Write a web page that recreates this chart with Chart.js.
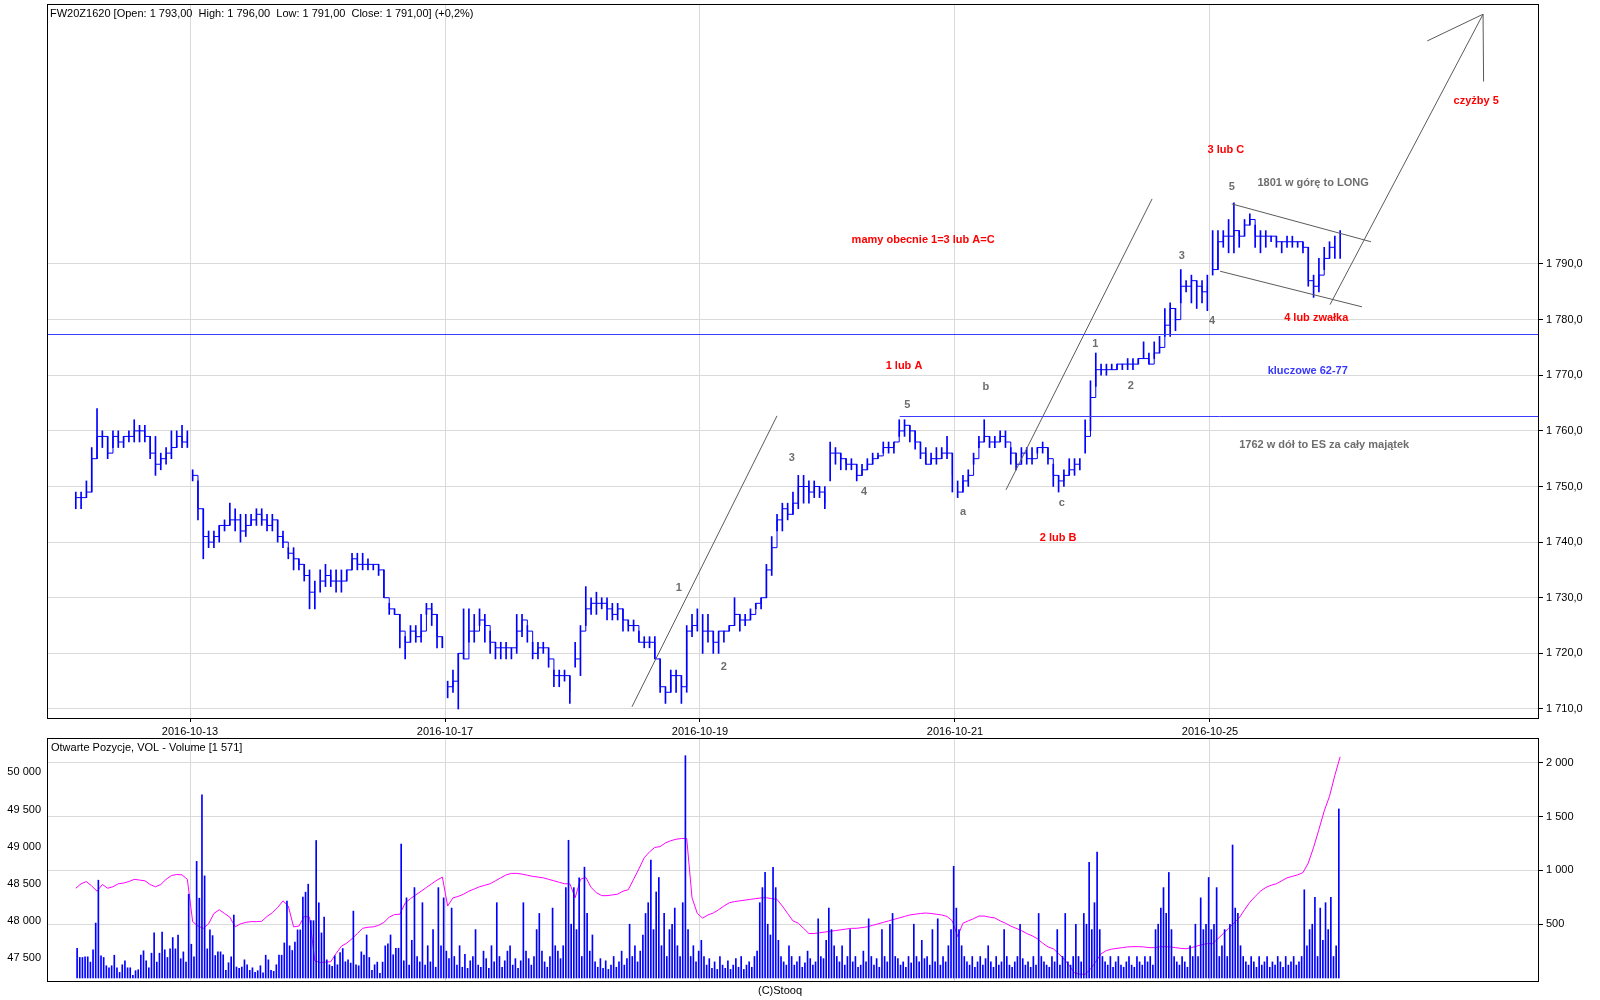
<!DOCTYPE html>
<html>
<head>
<meta charset="utf-8">
<script src="https://cdn.jsdelivr.net/npm/chart.js@4.4.1/dist/chart.umd.min.js"></script>
<style>
  body { margin: 0; background: #fff; }
  #wrap { position: relative; width: 1600px; height: 1000px; }
  canvas { position: absolute; left: 0; }
</style>
</head>
<body>
<div id="wrap">
  <canvas id="priceChart" width="1600" height="737" style="top:0"></canvas>
  <canvas id="volChart" width="1600" height="263" style="top:737px"></canvas>
</div>
<script>
// FW20Z1620, 20-min bars, 24 per session, bar 0 = start of 2016-10-12
const barsPerDay = 24;
const firstBar = 2;
const closes = [
  1748,1748,1749,1755,1759,1759,1756,1759,1758,1759,1759,1760,1760,1759,1756,1754,1755,1756,1757,1759,1758,1759,
  1752,1746,1741,1740,1741,1743,1743,1744,1744,1742,1743,1744,1745,1744,1743,1744,1741,1740,1738,1737,1736,1734,1731,1731,
  1733,1734,1733,1733,1733,1735,1737,1736,1736,1736,1736,1735,1730,1728,1727,1724,1722,1724,1723,1724,1728,1727,1723,1721,
  1714,1715,1720,1719,1724,1724,1726,1725,1722,1721,1721,1721,1721,1724,1726,1724,1720,1721,1721,1719,1716,1716,1716,1713,
  1719,1724,1728,1729,1729,1729,1728,1727,1728,1726,1725,1725,1722,1722,1722,1719,1714,1713,1716,1716,1714,1724,1725,1726,
  1724,1724,1722,1724,1724,1725,1727,1726,1726,1727,1729,1730,1735,1739,1744,1746,1745,1747,1750,1750,1749,1750,1749,1747,
  1756,1756,1755,1754,1754,1752,1753,1754,1755,1755.5,1757,1757,1758,1760,1761,1760,1758,1756,1754,1755,1755,1756,1756,1752,
  1749,1751,1752,1755,1758,1759,1758,1758,1759,1758,1756,1754,1756,1755,1755,1757,1757,1755,1752,1751,1752,1753,1754,1754,
  1759,1766,1771,1771,1771,1771,1772,1772,1772,1772,1773,1773,1772,1774,1775,1779,1782,1780,1786,1786,1787,1786,1785,1786,
  1789,1794,1795,1795,1796,1795,1797,1798,1795,1795,1795,1795,1794,1794,1794,1794,1794,1793,1787,1786,1788,1791,1793,1793,
  1791
];
const highs = [
  1749,1749,1751,1757,1764,1760,1759,1760,1760,1759,1760,1762,1761,1761,1759,1759,1756,1757,1760,1760,1761,1760,
  1753,1751,1746,1742,1742,1743,1744,1747,1746,1745,1745,1745,1746,1746,1745,1745,1744,1742,1739,1739,1737,1736,1735,1733,
  1735,1736,1735,1735,1735,1735,1738,1738,1738,1737,1736,1736,1735,1729,1728,1727,1723,1725,1725,1727,1729,1729,1727,1723,
  1715,1717,1720,1728,1728,1727,1728,1727,1724,1722,1722,1722,1721,1727,1727,1725,1722,1722,1722,1721,1717,1717,1717,1716,
  1722,1725,1732,1730,1731,1730,1730,1729,1729,1728,1726,1726,1724,1723,1723,1723,1719,1714,1717,1717,1716,1725,1727,1728,
  1727,1727,1724,1724,1724,1725,1730,1727,1727,1728,1729,1730,1736,1741,1745,1747,1747,1749,1752,1752,1751,1751,1750,1750,
  1758,1757,1756,1755,1755,1754,1754,1755,1756,1756,1758,1758,1758,1762,1762,1761,1760,1758,1757,1756,1757,1757,1759,1756,
  1751,1752,1753,1756,1759,1762,1759,1759,1760,1760,1757,1756,1757,1757,1757,1757,1758,1757,1754,1752,1753,1755,1755,1755,
  1762,1769,1774,1772,1772,1772,1772,1772,1773,1773,1773,1776,1774,1776,1777,1782,1783,1782,1789,1787,1788,1787,1787,1788,
  1796,1796,1796,1798,1801,1796,1798,1799,1797,1796,1796,1795,1795,1794,1795,1795,1794,1794,1793,1788,1791,1793,1794,1795,
  1796
];
const lows = [
  1746,1746,1748,1749,1755,1757,1755,1757,1757,1757,1758,1758,1758,1758,1755,1752,1753,1754,1755,1757,1757,1757,
  1751,1744,1737,1739,1739,1740,1742,1743,1742,1740,1741,1743,1743,1743,1742,1742,1740,1739,1737,1735,1735,1733,1728,1728,
  1731,1732,1732,1731,1731,1733,1735,1735,1735,1735,1735,1734,1730,1727,1727,1721,1719,1722,1722,1722,1727,1725,1721,1721,
  1712,1713,1710,1719,1722,1722,1725,1722,1720,1719,1719,1719,1719,1720,1723,1722,1719,1719,1720,1717.5,1714,1714,1715,1711,
  1717.5,1716,1725,1727,1727,1728,1726,1726,1726,1724,1724,1724,1722,1721,1721,1719,1713,1711,1713,1713,1711,1713,1723,1724,
  1720,1722,1720,1720,1722,1724,1725,1724,1725,1726,1728,1728,1730,1734,1742,1742,1744,1745,1746,1747,1747,1748,1748,1746,
  1751,1754,1753,1753,1753,1751,1752,1753,1754,1755,1756,1756,1756,1759,1759,1758,1756.7,1755,1754,1754,1754,1755,1755,1749,
  1748,1749,1750,1754,1757,1758,1757,1757,1758,1757,1754,1753,1754,1754,1754,1756,1756,1754,1750,1749,1750,1752,1752,1753,
  1756,1760,1768,1770,1770,1771,1771,1771,1771,1771,1772,1773,1772,1773,1774,1777,1777,1778,1783,1785,1783,1782,1783,1781.6,
  1788,1789,1793,1792,1792,1793,1795,1797,1793,1792,1793,1794,1793,1792,1793,1793,1793,1792,1786,1784,1785,1789,1791,1791,
  1791
];
// volume, 10-min bars, 48 per session
const volFirst = 5;
const volumes = [
  277,191,191,197,197,148,262,511,909,206,191,114,95,114,212,95,52,123,160,95,95,25,68,77,212,253,160,95,231,419,148,231,428,262,191,271,376,271,400,179,243,148,779,
  314,197,1084,742,1703,949,271,447,394,209,243,243,216,71,142,197,585,102,89,102,169,123,71,95,52,68,114,49,212,169,71,62,123,212,212,326,715,299,256,333,447,447,751,798,872,533,533,1278,
  699,419,567,169,123,108,206,123,237,274,151,169,139,622,123,114,243,212,400,191,71,123,148,43,148,299,317,400,216,277,277,
  1245,160,745,120,350,840,200,150,700,120,300,150,450,100,840,300,745,
  250,180,650,200,120,300,100,220,90,160,200,450,120,100,250,180,90,300,150,700,200,100,160,250,
  300,120,180,90,160,700,250,180,120,200,450,600,250,150,100,200,650,300,250,180,300,840,1280,500,
  840,450,930,200,1030,600,250,400,150,100,180,90,160,80,120,200,100,150,250,120,180,500,200,300,
  150,250,400,600,700,1095,450,800,934,300,600,200,450,500,650,300,200,700,2066,450,200,300,150,250,
  350,200,120,180,90,150,80,200,120,90,160,80,120,180,100,200,80,120,150,100,200,250,700,840,
  981,500,400,1028,840,350,200,150,120,300,200,120,150,200,100,140,250,180,120,150,550,200,180,350,
  650,450,300,200,150,300,120,200,450,150,200,100,120,250,150,550,200,120,180,100,450,200,150,500,
  600,200,180,120,150,100,200,140,500,200,150,350,180,200,120,450,150,550,120,200,150,300,450,1038,
  650,450,300,200,150,120,200,100,150,200,120,180,300,150,100,200,120,150,450,200,120,100,150,200,
  500,180,120,150,100,200,120,600,200,150,120,100,200,150,450,120,200,600,150,120,200,500,200,150,
  600,500,1075,450,700,1170,450,200,150,120,200,100,150,200,120,100,150,200,120,100,200,150,120,200,
  150,200,120,450,500,650,840,600,981,450,200,150,120,200,150,100,300,200,500,200,745,450,500,934,
  450,500,840,200,300,450,200,500,1236,650,600,300,200,150,120,200,150,100,200,120,150,200,100,150,
  120,200,150,100,200,120,150,200,120,150,200,820,300,450,500,750,200,650,350,700,450,750,200,300,
  1571
];
// open interest, one value per 20-min bar from firstBar
const openInt = [
  48440,48500,48530,48470,48400,48490,48440,48460,48500,48510,48530,48560,48550,48540,48490,48460,48490,48560,48610,48625,48620,48560,
  47990,47930,47900,47960,48100,48150,48100,48050,47920,47960,47980,47990,47990,47995,48060,48110,48180,48270,48200,47920,47930,48060,
  48050,47460,47440,47445,47450,47560,47660,47700,47760,47830,47900,47915,47920,47940,47980,48050,48085,48090,
  48240,48300,48350,48400,48450,48500,48550,48590,
  48200,48310,48330,48360,48400,48430,48460,48480,48500,48540,48580,48620,48640,48640,48630,48615,
  48600,48590,48580,48560,48540,48520,48500,48500,48312,48560,48587,48450,48380,48340,48340,48350,
  48360,48400,48420,48560,48700,48850,48930,48990,49000,49050,49080,49100,49110,49110,48312,48100,
  48037,48080,48106,48150,48200,48244,48260,48270,48280,48290,48300,48310,48312,48300,48290,48200,
  48100,48000,47969,47900,47830,47830,47840,47850,47860,47870,47880,47890,47900,47900,47910,47920,
  47940,47960,47980,48000,48020,48040,48060,48080,48090,48100,48106,48100,48090,48080,48060,48000,
  47790,47969,48000,48030,48065,48065,48050,48040,48000,47969,47930,47900,47870,47830,47800,47760,
  47700,47650,47625,47560,47488,47400,47300,47282,47282,47350,47450,47557,47600,47620,47630,47640,
  47650,47653,47653,47650,47640,47640,47650,47653,47650,47640,47630,47625,47640,47660,47680,47694,
  47694,47760,47830,47900,47970,48040,48150,48250,48330,48400,48450,48480,48500,48540,48580,48600,
  48620,48650,48780,48990,49230,49480,49680,49960,50210
];

const dateTicks = [24, 72, 120, 168, 216];
const dateLabels = ['2016-10-13', '2016-10-17', '2016-10-19', '2016-10-21', '2016-10-25'];
const priceTicks = [1710, 1720, 1730, 1740, 1750, 1760, 1770, 1780, 1790];
const volTicks = [500, 1000, 1500, 2000];
const oiTicks = [47500, 48000, 48500, 49000, 49500, 50000];

const levels = [[1777.4, -3], [1762.6, 157.6]];
const guides = [
  [107.2, 1710.4, 134.5, 1762.7],
  [177.6, 1749.4, 205.1, 1801.7],
  [220.1, 1800.8, 246.3, 1794.0],
  [217.9, 1788.7, 244.6, 1782.3],
  [238.6, 1782.7, 267.4, 1834.9],
  [256.9, 1830.1, 267.4, 1834.9],
  [267.4, 1834.9, 267.5, 1822.8]
];
const red = '#ff0000', gray = '#6e6e6e', blue = '#3737ff';
const notes = [
  ['czyżby 5', 266.1, 1819.3, red],
  ['3 lub C', 219.0, 1810.5, red],
  ['1801 w górę to LONG', 235.4, 1804.6, gray],
  ['5', 220.1, 1803.8, gray],
  ['mamy obecnie 1=3 lub A=C', 162.0, 1794.3, red],
  ['3', 210.7, 1791.4, gray],
  ['4 lub zwałka', 236.0, 1780.3, red],
  ['4', 216.4, 1779.8, gray],
  ['1', 194.4, 1775.6, gray],
  ['2', 201.1, 1768.1, gray],
  ['1 lub A', 158.4, 1771.7, red],
  ['kluczowe 62-77', 234.4, 1770.8, blue],
  ['b', 173.8, 1767.9, gray],
  ['5', 159.0, 1764.7, gray],
  ['1762 w dół to ES za cały majątek', 237.5, 1757.5, gray],
  ['3', 137.3, 1755.1, gray],
  ['4', 150.9, 1749.0, gray],
  ['a', 169.5, 1745.4, gray],
  ['c', 188.1, 1747.0, gray],
  ['2 lub B', 187.4, 1740.7, red],
  ['1', 116.0, 1731.75, gray],
  ['2', 124.5, 1717.6, gray]
];

const xMin = -2.918, xMax = 277.93;
const FONT = '"Liberation Sans", Arial, sans-serif';
Chart.defaults.font.family = FONT;
Chart.defaults.font.size = 11;
Chart.defaults.color = '#000';

function spaced(v) {
  return String(Math.round(v)).replace(/\B(?=(\d{3})+(?!\d))/g, ' ');
}
function noPadV(s, w) { s.width = w; s.paddingTop = 0; s.paddingBottom = 0; }
function noPadH(s, h) { s.height = h; s.paddingLeft = 0; s.paddingRight = 0; }

const wickPts = highs.map((h, i) => ({ x: firstBar + i + 0.5, y: [lows[i], h] }));
const closePts = [];
closes.forEach((c, i) => {
  const k = firstBar + i;
  if (i > 0 && k % barsPerDay === 0) closePts.push({ x: k, y: null });
  closePts.push({ x: k + 0.5, y: c });
});
const volPts = volumes.map((v, j) => ({ x: (volFirst + j + 0.5) / 2, y: v }));
const oiPts = openInt.map((v, i) => ({ x: firstBar + i + 0.5, y: v }));

const frame = {
  id: 'frame',
  afterDraw(chart) {
    const a = chart.chartArea, ctx = chart.ctx;
    ctx.save();
    ctx.strokeStyle = '#000';
    ctx.lineWidth = 1;
    ctx.strokeRect(a.left + 0.5, a.top - 0.5, a.right - a.left - 1, a.bottom - a.top);
    ctx.restore();
  }
};

const drawings = {
  id: 'drawings',
  afterDatasetsDraw(chart) {
    const ctx = chart.ctx, x = chart.scales.x, y = chart.scales.y, a = chart.chartArea;
    ctx.save();
    ctx.lineWidth = 1;
    ctx.strokeStyle = '#3c3cff';
    levels.forEach(l => {
      const py = Math.round(y.getPixelForValue(l[0])) + 0.5;
      ctx.beginPath();
      ctx.moveTo(Math.max(a.left, x.getPixelForValue(l[1])), py);
      ctx.lineTo(a.right, py);
      ctx.stroke();
    });
    ctx.strokeStyle = '#5a5a5a';
    guides.forEach(g => {
      ctx.beginPath();
      ctx.moveTo(x.getPixelForValue(g[0]), y.getPixelForValue(g[1]));
      ctx.lineTo(x.getPixelForValue(g[2]), y.getPixelForValue(g[3]));
      ctx.stroke();
    });
    ctx.font = 'bold 11px ' + FONT;
    ctx.textAlign = 'center';
    ctx.textBaseline = 'middle';
    notes.forEach(n => {
      ctx.fillStyle = n[3];
      ctx.fillText(n[0], x.getPixelForValue(n[1]), y.getPixelForValue(n[2]));
    });
    ctx.font = '11px ' + FONT;
    ctx.textAlign = 'left';
    ctx.fillStyle = '#000';
    ctx.fillText('FW20Z1620 [Open: 1 793,00  High: 1 796,00  Low: 1 791,00  Close: 1 791,00] (+0,2%)', 50, 14);
    ctx.restore();
  }
};

new Chart(document.getElementById('priceChart'), {
  type: 'bar',
  data: {
    datasets: [
      { type: 'line', data: closePts, borderColor: '#0000ff', borderWidth: 1, pointRadius: 0, stepped: true, spanGaps: false },
      { type: 'bar', data: wickPts, backgroundColor: '#0000ff', barThickness: 1, borderWidth: 0 }
    ]
  },
  options: {
    responsive: false,
    animation: false,
    layout: { padding: { left: 47, top: 5, right: 0, bottom: 0 } },
    plugins: { legend: { display: false }, tooltip: { enabled: false } },
    scales: {
      x: {
        type: 'linear', min: xMin, max: xMax, offset: false,
        grid: { offset: false, color: '#dadada', tickColor: '#000', tickLength: 3 },
        border: { display: false },
        afterBuildTicks: s => { s.ticks = dateTicks.map(v => ({ value: v })); },
        afterFit: s => noPadH(s, 18),
        ticks: { padding: 3, maxRotation: 0, autoSkip: false, callback: (v, i) => dateLabels[i] }
      },
      y: {
        position: 'right', min: 1708.2, max: 1836.56,
        grid: { color: '#dadada', tickColor: '#000', tickLength: 4 },
        border: { display: false },
        afterBuildTicks: s => { s.ticks = priceTicks.map(v => ({ value: v })); },
        afterFit: s => noPadV(s, 61),
        ticks: { padding: 3, callback: v => spaced(v) + ',0' }
      }
    }
  },
  plugins: [frame, drawings]
});

const volText = {
  id: 'volText',
  afterDraw(chart) {
    const ctx = chart.ctx;
    ctx.save();
    ctx.font = '11px ' + FONT;
    ctx.fillStyle = '#000';
    ctx.textBaseline = 'middle';
    ctx.textAlign = 'left';
    ctx.fillText('Otwarte Pozycje, VOL - Volume [' + spaced(volumes[volumes.length - 1]) + ']', 51, 11);
    ctx.textAlign = 'center';
    ctx.fillText('(C)Stooq', 780, 254);
    ctx.restore();
  }
};

new Chart(document.getElementById('volChart'), {
  type: 'bar',
  data: {
    datasets: [
      { type: 'bar', data: volPts, yAxisID: 'y', backgroundColor: '#0000ff', barThickness: 1, borderWidth: 0 },
      { type: 'line', data: oiPts, yAxisID: 'oi', borderColor: '#ff00ff', borderWidth: 1, pointRadius: 0, tension: 0 }
    ]
  },
  options: {
    responsive: false,
    animation: false,
    layout: { padding: { left: 0, top: 2, right: 0, bottom: 18 } },
    plugins: { legend: { display: false }, tooltip: { enabled: false } },
    scales: {
      x: {
        type: 'linear', min: xMin, max: xMax, offset: false,
        grid: { offset: false, color: '#dadada', drawTicks: false },
        border: { display: false },
        afterBuildTicks: s => { s.ticks = dateTicks.map(v => ({ value: v })); },
        afterFit: s => noPadH(s, 0),
        ticks: { display: false }
      },
      y: {
        position: 'right', min: -37, max: 2221,
        grid: { color: '#dadada', tickColor: '#000', tickLength: 4 },
        border: { display: false },
        afterBuildTicks: s => { s.ticks = volTicks.map(v => ({ value: v })); },
        afterFit: s => noPadV(s, 61),
        ticks: { padding: 3, callback: v => spaced(v) }
      },
      oi: {
        position: 'left', min: 47177, max: 50450,
        grid: { display: false, drawTicks: false },
        border: { display: false },
        afterBuildTicks: s => { s.ticks = oiTicks.map(v => ({ value: v })); },
        afterFit: s => noPadV(s, 47),
        ticks: { padding: 6, callback: v => spaced(v) }
      }
    }
  },
  plugins: [frame, volText]
});
</script>
</body>
</html>
